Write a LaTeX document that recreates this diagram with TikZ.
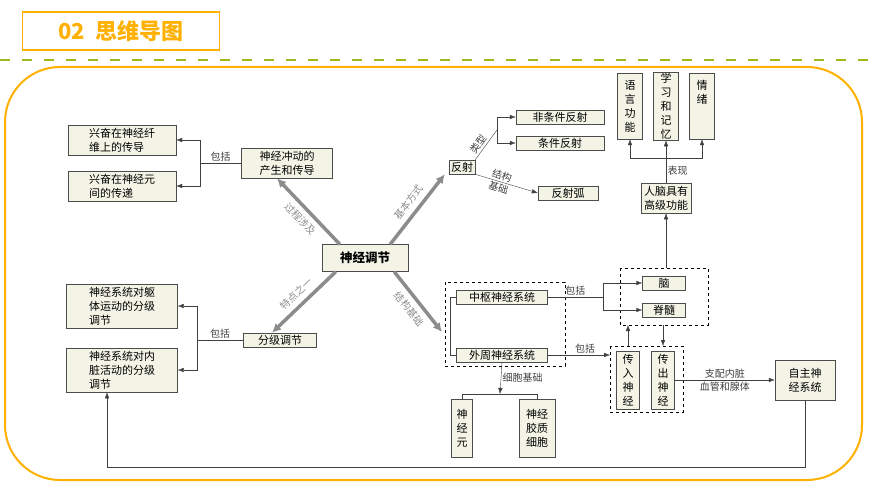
\documentclass[tikz,border=0pt]{standalone}
\usepackage{fontspec}
\setmainfont{Noto Sans CJK SC}
\usetikzlibrary{arrows.meta,positioning}
\definecolor{boxfill}{HTML}{F3F3E6}
\definecolor{titleorange}{HTML}{FFB000}
\definecolor{dashgreen}{HTML}{9BBB1C}

\begin{document}
\begin{tikzpicture}[x=1pt, y=-1pt,
    box/.style={draw=black!70, fill=boxfill, rectangle, font=\fontsize{11}{14}\selectfont, inner sep=3pt, align=center},
    vbox/.style={box, minimum width=25pt, minimum height=66pt, inner sep=1pt},
    group/.style={draw, dashed, thin},
    arrow/.style={-{Latex[length=6pt]}, black!75},
    line/.style={black!75},
    bigarrow/.style={-{Latex[length=9pt,width=9pt]}, line width=3.5pt, black!45},
    lbl/.style={font=\fontsize{10}{11}\selectfont, inner sep=1.5pt},
    biglbl/.style={font=\fontsize{10}{11}\selectfont, inner sep=5pt, sloped}
]
\useasboundingbox (0,0) rectangle (870,489);

% Title
\node[draw=titleorange, line width=1.5pt, minimum width=197pt, minimum height=38pt, text=titleorange, font=\fontsize{22}{24}\bfseries\selectfont] (title) at (121,31) {02\ \ 思维导图};
\draw[dashgreen, line width=2.5pt, dash pattern=on 10pt off 12pt] (0,60) -- (870,60);
\draw[titleorange, line width=2pt, rounded corners=55pt] (5,67) rectangle (862,480);

% Nodes
\node[box, font=\fontsize{12.5}{14}\bfseries\selectfont, minimum width=86pt, minimum height=27pt] (nr) at (365,258) {神经调节};
\node[box, minimum width=108pt, align=left] (jdw) at (122,140) {兴奋在神经纤\\维上的传导};
\node[box, minimum width=108pt, align=left] (jdy) at (122,186) {兴奋在神经元\\间的传递};
\node[box, minimum width=91pt, align=left] (chan) at (287,163) {神经冲动的\\产生和传导};
\node[box, inner sep=2pt] (fs) at (462,167) {反射};
\node[box, minimum width=88pt, inner sep=2pt] (ftj) at (560,117) {非条件反射};
\node[box, minimum width=88pt, inner sep=2pt] (tj) at (560,143) {条件反射};
\node[box, minimum width=60pt, inner sep=2pt] (fsh) at (568,193) {反射弧};
\node[vbox] (yy) at (630,106) {语\\言\\功\\能};
\node[vbox] (xx) at (666,106) {学\\习\\和\\记\\忆};
\node[vbox] (qx) at (702,106) {情\\绪\\ \\ };
\node[box] (rn) at (666,198) {人脑具有\\高级功能};
\node[box, minimum width=43pt, inner sep=2pt] (nao) at (664,283) {脑};
\node[box, minimum width=43pt, inner sep=2pt] (jis) at (664,310) {脊髓};
\node[box, minimum width=91pt, inner sep=2pt] (zs) at (502,297) {中枢神经系统};
\node[box, minimum width=91pt, inner sep=2pt] (wz) at (502,355) {外周神经系统};
\node[vbox, minimum width=23pt, minimum height=58pt] (cr) at (628,380) {传\\入\\神\\经};
\node[vbox, minimum width=23pt, minimum height=58pt] (cc) at (663,380) {传\\出\\神\\经};
\node[box, minimum width=60pt, minimum height=40pt] (zz) at (805,380) {自主神\\经系统};
\node[vbox, minimum width=21pt, minimum height=58pt] (sjy) at (462,428) {神\\经\\元};
\node[vbox, minimum width=36pt, minimum height=58pt] (jz) at (537,428) {神经\\胶质\\细胞};
\node[box, minimum width=111pt, align=left] (qt) at (122,306) {神经系统对躯\\体运动的分级\\调节};
\node[box, minimum width=111pt, align=left] (nz) at (122,370) {神经系统对内\\脏活动的分级\\调节};
\node[box, minimum width=73pt, inner sep=2pt] (fj) at (280,340) {分级调节};

% Groups
\draw[group] (445,282) rectangle (565,366);
\draw[group] (620,268) rectangle (708,325);
\draw[group] (610,346) rectangle (683,412);
\coordinate (cns) at (442,332);

% Main arrows
\draw[bigarrow] ([xshift=18pt]nr.north west) -- ([xshift=-10pt]chan.south) node[pos=0.5, biglbl, anchor=north] {过程涉及};
\draw[bigarrow] ([xshift=-18pt]nr.north east) -- ([xshift=-4pt]fs.south west) node[pos=0.5, biglbl, anchor=south] {基本方式};
\draw[bigarrow] ([xshift=14pt]nr.south west) -- ([xshift=-8pt]fj.north) node[pos=0.5, biglbl, anchor=south] {特点之一};
\draw[bigarrow] ([xshift=-14pt]nr.south east) -- (cns) node[pos=0.5, biglbl, anchor=north] {结构基础};

% Connections
\draw[line] (chan.west) -- (200,163) node[pos=0.5, above, lbl] {包括};
\draw[arrow] (200,163) |- (jdw.east);
\draw[arrow] (200,163) |- (jdy.east);
\draw[line] (fj.west) -- (197,340) node[pos=0.5, above, lbl] {包括};
\draw[arrow] (197,340) |- (qt.east);
\draw[arrow] (197,340) |- (nz.east);
\draw[line] (fs.north east) -- (497,130) node[pos=0.4, above, sloped, lbl] {类型};
\draw[arrow] (497,130) |- (ftj.west);
\draw[arrow] (497,130) |- (tj.west);
\draw[arrow] (fs.south east) -- (fsh.west) node[pos=0.4, above, sloped, lbl] {结构} node[pos=0.4, below, sloped, lbl] {基础};
\draw[line] (rn.north) -- (666,158) node[pos=0.5, right, lbl] {表现};
\draw[arrow] (666,158) -| (yy.south);
\draw[arrow] (666,158) -- (xx.south);
\draw[arrow] (666,158) -| (qx.south);
\draw[arrow] (666,268) -- (rn.south);
\draw[line] (zs.west) -- (450,297) -- (450,355) -- (wz.west);
\draw[line] (zs.east) -- (603,297) node[pos=0.5, above, lbl] {包括};
\draw[arrow] (603,297) |- (nao.west);
\draw[arrow] (603,297) |- (jis.west);
\draw[arrow] (wz.east) -- (610,355) node[pos=0.6, above, lbl] {包括};
\draw[arrow] (cr.north |- 0,346) -- (cr.north |- 0,325);
\draw[arrow] (cc.north |- 0,325) -- (cc.north |- 0,346);
\draw[arrow] (cc.east) -- (zz.west) node[pos=0.5, above, lbl] {支配内脏} node[pos=0.5, below, lbl] {血管和腺体};
\draw[arrow] (wz.south) -- (500,394) node[pos=0.5, right, lbl] {细胞基础};
\draw[line] (sjy.north) |- (537,394) -- (jz.north);
\draw[arrow] (zz.south) |- (107,467) -- (nz.south -| 107,0);
\end{tikzpicture}
\end{document}
